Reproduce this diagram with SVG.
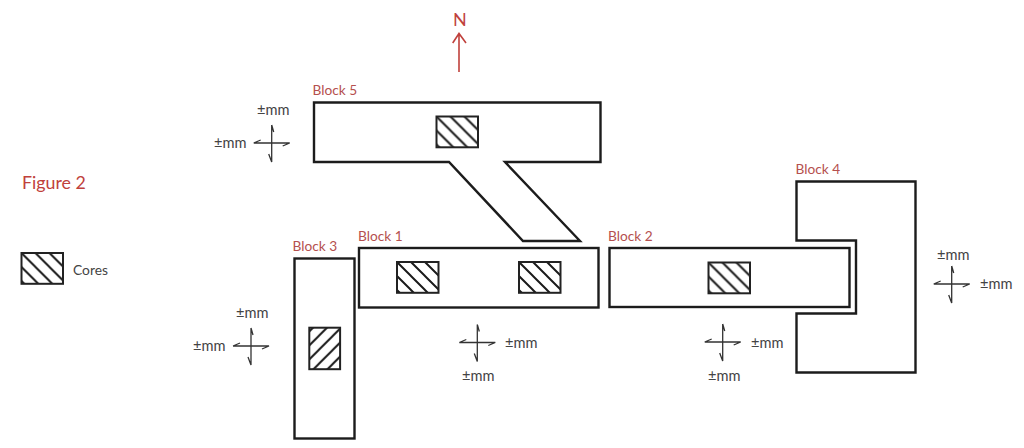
<svg xmlns="http://www.w3.org/2000/svg" width="1024" height="448" viewBox="0 0 1024 448">
<style>
text{font-family:"Lato","Liberation Sans",sans-serif}
.b{fill:#fff;stroke:#1c1c1c;stroke-width:2.4;stroke-linejoin:miter}
.l{font-size:13.7px;fill:#b5504e}
.m{font-size:14.6px;fill:#444}
.c{font-size:13.8px;fill:#444}
.x{fill:none;stroke:#333;stroke-width:1.3}
.r{fill:none;stroke:#c0413c;stroke-width:1.6}
</style>
<defs>
<pattern id="hd" width="14" height="14" patternUnits="userSpaceOnUse"><path d="M-3.5 -3.5L17.5 17.5M-17.5 -3.5L3.5 17.5M10.500 -3.5L31.5 17.5" stroke="#1a1a1a" stroke-width="2" fill="none"/></pattern>
<pattern id="hu" x="10.700" width="14" height="14" patternUnits="userSpaceOnUse"><path d="M-3.500 17.500L17.500 -3.500M-17.500 17.500L3.500 -3.500M10.500 17.500L31.500 -3.500" stroke="#1a1a1a" stroke-width="2" fill="none"/></pattern>
<rect id="core" width="41.500" height="30.800" fill="url(#hd)" stroke="#222" stroke-width="2"/>
<path id="cross" class="x" d="M-18 -1L18 -1L11 2M-18 -1L-11 -4M0 -19L0 18L-3 10M0 -19L2 -12"/>
</defs>
<rect width="1024" height="448" fill="#fff"/>
<g id="title"><text x="22" y="189" font-size="17.800" fill="#c0413c">Figure 2</text></g>
<g id="legend"><use href="#core" x="21.500" y="253"/><text x="73" y="275" class="c">Cores</text></g>
<g id="north"><text x="453" y="25.500" font-size="18" fill="#c0413c">N</text><path class="r" d="M459 72L459 33.500M452.700 43L459 33.500L466 43"/></g>
<g id="block5">
<path class="b" d="M314 102.500H600.500V162H505L580 241H523L449 162H314Z"/>
<use href="#core" x="436.500" y="116.500"/>
<text x="312.500" y="95" class="l">Block 5</text>
</g>
<g id="block1">
<rect class="b" x="359" y="248" width="239.500" height="59.500"/>
<use href="#core" x="397" y="262"/>
<use href="#core" x="519" y="262"/>
<text x="358" y="241" class="l">Block 1</text>
</g>
<g id="block3">
<rect class="b" x="294.500" y="258.500" width="60" height="180"/>
<rect x="309.300" y="327.700" width="30.800" height="41.500" fill="url(#hu)" stroke="#222" stroke-width="2"/>
<text x="292.500" y="251" class="l">Block 3</text>
</g>
<g id="block4">
<path class="b" d="M796.500 181.500H915.500V372.500H796.500V313.500H856V240.500H796.500Z"/>
<text x="795.500" y="174" class="l">Block 4</text>
</g>
<g id="block2">
<rect class="b" x="609.500" y="248" width="240" height="59"/>
<use href="#core" x="708.500" y="262.500"/>
<text x="608" y="241" class="l">Block 2</text>
</g>
<g id="connectors">
<use href="#cross" x="271.700" y="144"/>
<use href="#cross" x="251" y="347"/>
<use href="#cross" x="477.300" y="343.500"/>
<use href="#cross" x="722.700" y="343"/>
<use href="#cross" x="951.700" y="285"/>
</g>
<g id="tolerances" class="m">
<text x="257" y="115">±mm</text>
<text x="214" y="148">±mm</text>
<text x="236" y="318">±mm</text>
<text x="193" y="351">±mm</text>
<text x="505" y="348">±mm</text>
<text x="462" y="381">±mm</text>
<text x="751" y="348">±mm</text>
<text x="708" y="381">±mm</text>
<text x="937" y="260">±mm</text>
<text x="980" y="289">±mm</text>
</g>
</svg>
